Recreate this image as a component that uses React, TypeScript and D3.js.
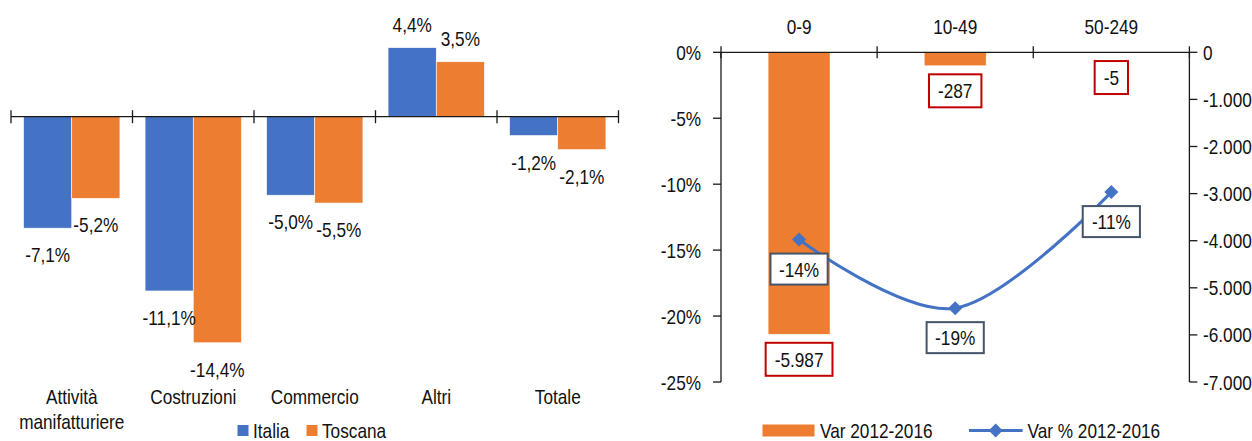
import React from "react";
import * as d3 from "d3";

// ---------- DATA ----------
const sectors = ["Attività\nmanifatturiere", "Costruzioni", "Commercio", "Altri", "Totale"];
const italia = [-7.1, -11.1, -5.0, 4.4, -1.2];
const toscana = [-5.2, -14.4, -5.5, 3.5, -2.1];
const seriesNames = ["Italia", "Toscana"];

const classes = ["0-9", "10-49", "50-249"];
const varAbs = [-5987, -287, -5];
const varPct = [-14.2, -19.4, -10.6];
const pctTicks = [0, -5, -10, -15, -20, -25];
const absTicks = [0, -1000, -2000, -3000, -4000, -5000, -6000, -7000];
const legendRight = ["Var 2012-2016", "Var % 2012-2016"];

// ---------- STYLE ----------
const FONT = "'Liberation Sans',Arial,sans-serif";
const FS = 21;
const SX = 0.82;
const BLUE = "#4472C4";
const ORANGE = "#ED7D31";
const AX = "#1a1a1a";
const TXT = "#111";

const itFmt = d3.formatLocale({
  decimal: ",",
  thousands: ".",
  grouping: [3],
  currency: ["", "€"],
  minus: "-",
} as any).format(",");

const pct1 = (v: number) => v.toFixed(1).replace(".", ",") + "%";

function Txt(props: any) {
  const { children, x, y, ...rest } = props;
  return (
    <text
      transform={`translate(${x},${y}) scale(${SX},1)`}
      fontFamily={FONT}
      fontSize={FS}
      fill={TXT}
      dy="0.36em"
      {...rest}
    >
      {children}
    </text>
  );
}

function LeftChart() {
  const x = d3
    .scaleBand<string>()
    .domain(sectors)
    .range([11, 618.5])
    .paddingInner(0.207)
    .paddingOuter(0.1035);
  const xs = d3.scaleBand<string>().domain(seriesNames).range([0, x.bandwidth()]);
  const y = d3.scaleLinear().domain([-15, 5]).range([352.2, 38.2]);
  const y0 = y(0);
  const step = x.step();
  const x0 = x.range()[0];
  const boundaries = d3.range(sectors.length + 1).map((i) => x0 + i * step);
  const series = [italia, toscana];
  const colors = [BLUE, ORANGE];

  return (
    <g>
      {series.map((vals, si) =>
        vals.map((v, i) => {
          const bx = (x(sectors[i]) as number) + (xs(seriesNames[si]) as number);
          const yt = Math.min(y(v), y0);
          const h = Math.abs(y(v) - y0);
          return (
            <rect
              key={`b${si}-${i}`}
              x={bx}
              y={yt}
              width={xs.bandwidth()}
              height={h}
              fill={colors[si]}
              stroke="#fff"
              strokeWidth={0.6}
            />
          );
        })
      )}
      <line x1={x0} x2={boundaries[boundaries.length - 1]} y1={y0} y2={y0} stroke={AX} strokeWidth={1.3} />
      {boundaries.map((bx, i) => (
        <line key={`t${i}`} x1={bx} x2={bx} y1={y0 - 6.5} y2={y0 + 6.5} stroke={AX} strokeWidth={1.3} />
      ))}
      {series.map((vals, si) =>
        vals.map((v, i) => {
          const cx = (x(sectors[i]) as number) + (xs(seriesNames[si]) as number) + xs.bandwidth() / 2;
          const cy = v < 0 ? y(v) + 26.5 : y(v) - 23;
          return (
            <Txt key={`l${si}-${i}`} x={cx} y={cy} textAnchor="middle">
              {pct1(v)}
            </Txt>
          );
        })
      )}
      {sectors.map((s, i) => {
        const cx = (x(s) as number) + x.bandwidth() / 2;
        return s.split("\n").map((line, li) => (
          <Txt key={`c${i}-${li}`} x={cx} y={396 + li * 25.6} textAnchor="middle">
            {line}
          </Txt>
        ));
      })}
      {/* legend */}
      <rect x={237.5} y={425} width={11} height={11} fill={BLUE} />
      <Txt x={253} y={430}>{seriesNames[0]}</Txt>
      <rect x={306.5} y={425} width={11} height={11} fill={ORANGE} />
      <Txt x={322} y={430}>{seriesNames[1]}</Txt>
    </g>
  );
}

function RightChart() {
  const x = d3
    .scaleBand<string>()
    .domain(classes)
    .range([721, 1189.4])
    .paddingInner(0.603)
    .paddingOuter(0.3015);
  const yL = d3.scaleLinear().domain([-25, 0]).range([382, 52.3]);
  const yR = d3.scaleLinear().domain([-7000, 0]).range([382, 52.3]);
  const step = x.step();
  const x0 = x.range()[0];
  const x1 = x.range()[1];
  const y0 = yR(0);
  const boundaries = d3.range(classes.length + 1).map((i) => x0 + i * step);
  const cx = (c: string) => (x(c) as number) + x.bandwidth() / 2;

  const pts: [number, number][] = varPct.map((v, i) => [cx(classes[i]), yL(v)]);
  const lineGen = d3.line().curve(d3.curveCardinal.tension(0));
  const path = lineGen(pts) || "";

  const charW = (s: string) => {
    let w = 0;
    for (const ch of s) {
      if (ch === "%") w += 0.889;
      else if (ch === "." || ch === ",") w += 0.278;
      else if (ch === "-") w += 0.333;
      else w += 0.556;
    }
    return w * SX * FS;
  };

  const diamond = (px: number, py: number, r: number) =>
    `M${px},${py - r}L${px + r},${py}L${px},${py + r}L${px - r},${py}Z`;

  return (
    <g>
      {/* bars */}
      {varAbs.map((v, i) => (
        <rect
          key={`rb${i}`}
          x={x(classes[i])}
          y={y0}
          width={x.bandwidth()}
          height={yR(v) - y0}
          fill={ORANGE}
          stroke="#fff"
          strokeWidth={0.6}
        />
      ))}
      {/* axes */}
      <line x1={x0} x2={x0} y1={y0} y2={yL(-25)} stroke={AX} strokeWidth={1.3} />
      <line x1={x1} x2={x1} y1={y0} y2={yR(-7000)} stroke={AX} strokeWidth={1.3} />
      <line x1={x0} x2={x1} y1={y0} y2={y0} stroke={AX} strokeWidth={1.3} />
      {boundaries.map((bx, i) => (
        <line key={`rt${i}`} x1={bx} x2={bx} y1={y0 - 6} y2={y0 + 6} stroke={AX} strokeWidth={1.3} />
      ))}
      {pctTicks.map((t) => (
        <g key={`pl${t}`}>
          <line x1={x0 - 8} x2={x0} y1={yL(t)} y2={yL(t)} stroke={AX} strokeWidth={1.3} />
          <Txt x={701} y={yL(t)} textAnchor="end">
            {t + "%"}
          </Txt>
        </g>
      ))}
      {absTicks.map((t) => (
        <g key={`al${t}`}>
          <line x1={x1} x2={x1 + 8} y1={yR(t)} y2={yR(t)} stroke={AX} strokeWidth={1.3} />
          <Txt x={1203} y={yR(t)}>{itFmt(t)}</Txt>
        </g>
      ))}
      {classes.map((c) => (
        <Txt key={`cl${c}`} x={cx(c)} y={26.7} textAnchor="middle">
          {c}
        </Txt>
      ))}
      {/* line */}
      <path d={path} fill="none" stroke={BLUE} strokeWidth={3} />
      {pts.map(([px, py], i) => (
        <path key={`m${i}`} d={diamond(px, py, 7)} fill={BLUE} />
      ))}
      {/* bar labels (red boxes) */}
      {varAbs.map((v, i) => {
        const s = itFmt(v);
        const w = charW(s) + 18;
        const h = 33;
        const top = yR(v) + 8.5;
        const c = cx(classes[i]);
        return (
          <g key={`rl${i}`}>
            <rect x={c - w / 2} y={top} width={w} height={h} fill="#fff" stroke="#C00000" strokeWidth={2} />
            <Txt x={c} y={top + h / 2} textAnchor="middle">
              {s}
            </Txt>
          </g>
        );
      })}
      {/* line labels (slate boxes) */}
      {varPct.map((v, i) => {
        const s = Math.round(v) + "%";
        const w = charW(s) + 17;
        const h = 31;
        const [c, py] = pts[i];
        const top = py + 14;
        return (
          <g key={`ll${i}`}>
            <rect x={c - w / 2} y={top} width={w} height={h} fill="#fff" stroke="#44546A" strokeWidth={2} />
            <Txt x={c} y={top + h / 2} textAnchor="middle">
              {s}
            </Txt>
          </g>
        );
      })}
      {/* legend */}
      <rect x={762.5} y={424.5} width={52} height={12} fill={ORANGE} />
      <Txt x={820} y={430}>{legendRight[0]}</Txt>
      <line x1={969} x2={1022.6} y1={430.5} y2={430.5} stroke={BLUE} strokeWidth={3} />
      <path d={diamond(995.7, 430.5, 7)} fill={BLUE} />
      <Txt x={1027.5} y={430}>{legendRight[1]}</Txt>
    </g>
  );
}

export default function App() {
  return (
    <svg
      width={1252}
      height={441}
      style={{ position: "absolute", left: 0, top: 0, background: "#fff" }}
    >
      <rect x={0} y={0} width={1252} height={441} fill="#fff" />
      <LeftChart />
      <RightChart />
    </svg>
  );
}
